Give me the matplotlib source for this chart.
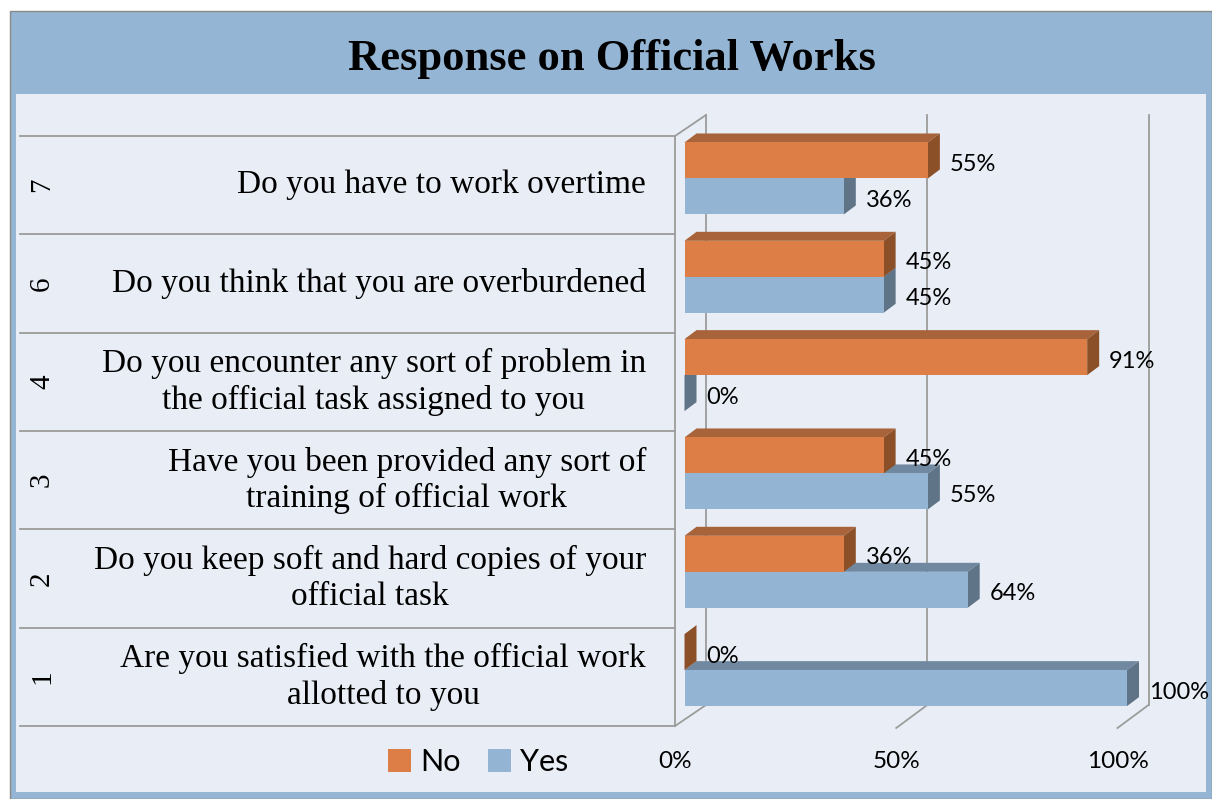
#!/usr/bin/env python3
"""Response on Official Works - 3D-looking horizontal bar chart."""

import matplotlib.pyplot as plt
from matplotlib.patches import Polygon, Rectangle, Patch

# data (bottom row first)
numbers = ["1", "2", "3", "4", "6", "7"]
questions = [
    "Are you satisfied with the official work\nallotted to you",
    "Do you keep soft and hard copies of your\nofficial task",
    "Have you been provided any sort of\ntraining of official work",
    "Do you encounter any sort of problem in\nthe official task assigned to you",
    "Do you think that you are overburdened",
    "Do you have to work overtime",
]
no_pct = [0, 36, 45, 91, 45, 55]
yes_pct = [100, 64, 55, 0, 45, 36]
x_ticks = [0, 50, 100]

# colours
OUTER = "#94b5d3"
INNER = "#e9eef6"
GRID = "#9c9c9c"
NO_C = ("#de7e47", "#a8633a", "#8c5029")    # front, top, side
YES_C = ("#93b4d2", "#7189a0", "#5f7487")

SERIF = ["Liberation Serif", "DejaVu Serif"]
SANS = ["Lato", "DejaVu Sans"]

W, H = 1212, 799
fig = plt.figure(figsize=(W / 100, H / 100), dpi=100)
fig.patch.set_facecolor("white")


def fx(px):
    return px / W


def fy(py):
    return 1 - py / H


fig.add_artist(Rectangle((fx(10), 0), 1 - fx(10), fy(11), transform=fig.transFigure,
                         facecolor=OUTER, edgecolor="#8a8a8a", lw=1, zorder=0))
fig.add_artist(Rectangle((fx(16), fy(792)), fx(1206) - fx(16), fy(94) - fy(792),
                         transform=fig.transFigure, facecolor=INNER, edgecolor="none", zorder=0))
fig.text(0.505, fy(59), "Response on Official Works", ha="center", va="center",
         fontsize=32, fontweight="bold", family=SERIF)

# plot area = front plane of the 3D box
x0px, x1px, ybot, ytop = 675, 1117.5, 726, 136
ax = fig.add_axes([fx(x0px), fy(ybot), fx(x1px) - fx(x0px), fy(ytop) - fy(ybot)])
ax.set_xlim(0, 100)
ax.set_ylim(0, len(numbers))
ax.axis("off")
ux = 100 / (x1px - x0px)
uy = len(numbers) / (ybot - ytop)

# wall depth, bar placement
wdx, wdy = 31 * ux, 21 * uy
bx, by = 9.5 * ux, 6.7 * uy
bdx, bdy = 12 * ux, 9 * uy
bar_h = 36 * uy
n = len(numbers)

line_kw = dict(color=GRID, lw=1.3, clip_on=False, zorder=1)
# left wall
ax.plot([0, 0], [0, n], **line_kw)
ax.plot([wdx, wdx], [wdy, n + wdy], **line_kw)
ax.plot([0, wdx], [n, n + wdy], **line_kw)
ax.plot([0, wdx], [0, wdy], **line_kw)
# back wall gridlines and floor ticks
for t in x_ticks[1:]:
    ax.plot([t + wdx, t + wdx], [wdy, n + wdy], **line_kw)
    ax.plot([t, t + wdx], [-2 * uy, wdy], **line_kw)
# table lines on the left
table_left = (20 - x0px) * ux
for r in range(n + 1):
    ax.plot([table_left, 0], [r, r], **line_kw)

for r in range(n):
    ax.text((42 - x0px) * ux, r + 0.5, numbers[r], rotation=90, ha="center", va="center",
            fontsize=21, family=SERIF)
    ax.text((646 - x0px) * ux, r + 0.5, questions[r], ha="right", va="center",
            multialignment="center", fontsize=24, family=SERIF, linespacing=1.22)


def draw_bar(val, ylow, cols):
    xa = bx
    xb = bx + val
    ya = ylow
    yb = ylow + bar_h
    top = [(xa, yb), (xb, yb), (xb + bdx, yb + bdy), (xa + bdx, yb + bdy)]
    side = [(xb, ya), (xb + bdx, ya + bdy), (xb + bdx, yb + bdy), (xb, yb)]
    front = [(xa, ya), (xb, ya), (xb, yb), (xa, yb)]
    for pts, c in ((top, cols[1]), (side, cols[2]), (front, cols[0])):
        ax.add_patch(Polygon(pts, closed=True, facecolor=c, edgecolor="none",
                             clip_on=False, zorder=3))
    ax.text(xb + 22 * ux, ylow + bar_h / 2 - 4 * uy, f"{val}%", ha="left", va="center",
            fontsize=17, family=SANS, zorder=5)


for r in range(n):
    mid = r + 0.5 + by
    draw_bar(yes_pct[r], mid - bar_h, YES_C)
    draw_bar(no_pct[r], mid, NO_C)

for t in x_ticks:
    ax.text(t, (ybot - 762) * uy, f"{t}%", ha="center", va="center", fontsize=17.5, family=SANS)

handles = [Patch(facecolor=NO_C[0], label="No"), Patch(facecolor=YES_C[0], label="Yes")]
fig.legend(handles=handles, loc="center", bbox_to_anchor=(fx(478), fy(762)), ncol=2,
           frameon=False, prop={"family": SANS, "size": 22}, handlelength=0.75,
           handleheight=0.75, handletextpad=0.3, columnspacing=0.9)

fig.savefig("out.png", dpi=100, facecolor=fig.get_facecolor())
